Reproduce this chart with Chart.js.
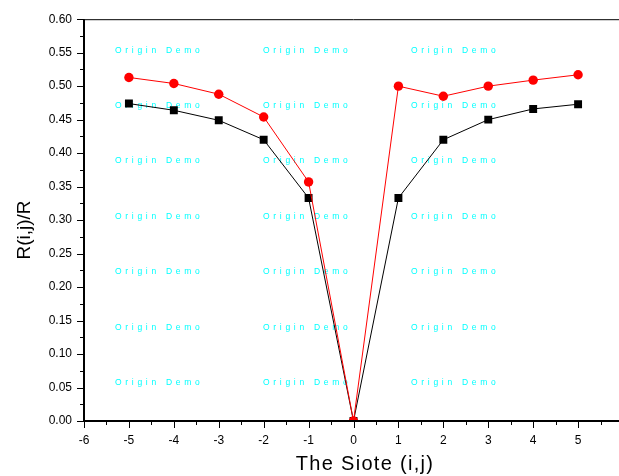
<!DOCTYPE html>
<html>
<head>
<meta charset="utf-8">
<script src="https://cdn.jsdelivr.net/npm/chart.js@4/dist/chart.umd.min.js"></script>
<style>
  html, body { margin: 0; padding: 0; background: #fff; overflow: hidden; }
  #wrap { width: 619px; height: 476px; overflow: hidden; }
</style>
</head>
<body>
<div id="wrap"><canvas id="c" width="640" height="476"></canvas></div>
<script>
// Site index (x) and the two R(i,j)/R series
const sites = [-5, -4, -3, -2, -1, 0, 1, 2, 3, 4, 5];
const blackSeries = [0.474, 0.464, 0.449, 0.420, 0.333, 0, 0.333, 0.420, 0.450, 0.466, 0.473];
const redSeries = [0.513, 0.504, 0.488, 0.454, 0.357, 0, 0.500, 0.485, 0.500, 0.509, 0.517];

const xTitle = 'The Siote (i,j)';
const yTitle = 'R(i,j)/R';
const watermark = 'Origin Demo';
const watermarkCols = [115, 263, 411];
const watermarkRows = [51, 106, 161, 217, 272, 328, 383];

const toPoints = (ys) => sites.map((x, i) => ({ x, y: ys[i] }));

// watermark behind the data
const watermarkPlugin = {
  id: 'watermark',
  beforeDatasetsDraw(chart) {
    const ctx = chart.ctx;
    ctx.save();
    ctx.fillStyle = '#00ffff';
    ctx.font = '8.5px Arial, "Liberation Sans", sans-serif';
    ctx.textBaseline = 'middle';
    ctx.textAlign = 'left';
    if ('letterSpacing' in ctx) ctx.letterSpacing = '3.7px';
    watermarkRows.forEach((y) => {
      watermarkCols.forEach((x) => ctx.fillText(watermark, x, y));
    });
    ctx.restore();
  },
};

// axis lines, major/minor ticks, frame top and axis titles
const axesPlugin = {
  id: 'originAxes',
  afterDraw(chart) {
    const { ctx, chartArea: a, scales: { x, y } } = chart;
    ctx.save();
    ctx.strokeStyle = '#000';

    // top frame line
    ctx.lineWidth = 1;
    ctx.beginPath();
    ctx.moveTo(a.left, a.top + 0.5);
    ctx.lineTo(a.right, a.top + 0.5);
    ctx.stroke();

    // y ticks
    for (let i = 0; i <= 24; i++) {
      const py = Math.round(y.getPixelForValue(i * 0.025)) + 0.5;
      const len = i % 2 === 0 ? 7 : 4;
      ctx.beginPath();
      ctx.moveTo(a.left - len, py);
      ctx.lineTo(a.left, py);
      ctx.stroke();
    }
    // x ticks
    for (let i = 0; i <= 24; i++) {
      const px = Math.round(x.getPixelForValue(-6 + i * 0.5)) + 0.5;
      const len = i % 2 === 0 ? 7 : 4;
      ctx.beginPath();
      ctx.moveTo(px, a.bottom);
      ctx.lineTo(px, a.bottom + len);
      ctx.stroke();
    }

    // axis lines
    ctx.lineWidth = 2;
    ctx.beginPath();
    ctx.moveTo(a.left, a.top);
    ctx.lineTo(a.left, a.bottom + 1);
    ctx.moveTo(a.left - 1, a.bottom);
    ctx.lineTo(a.right, a.bottom);
    ctx.stroke();

    // titles
    ctx.fillStyle = '#000';
    ctx.textAlign = 'center';
    ctx.textBaseline = 'middle';
    ctx.font = '20px Arial, "Liberation Sans", sans-serif';
    if ('letterSpacing' in ctx) ctx.letterSpacing = '1.3px';
    ctx.fillText(xTitle, 365, 464);
    if ('letterSpacing' in ctx) ctx.letterSpacing = '0px';
    ctx.font = '19px Arial, "Liberation Sans", sans-serif';
    ctx.translate(25, 230);
    ctx.rotate(-Math.PI / 2);
    ctx.fillText(yTitle, 0, 0);
    ctx.restore();
  },
};

const tickFont = { family: 'Arial, "Liberation Sans", sans-serif', size: 12 };

new Chart(document.getElementById('c'), {
  type: 'line',
  data: {
    datasets: [
      {
        label: 'black',
        data: toPoints(blackSeries),
        borderColor: '#000',
        backgroundColor: '#000',
        borderWidth: 1,
        pointStyle: 'rect',
        pointRadius: 5.6,
        pointBorderWidth: 0,
        tension: 0,
        clip: 0,
        order: 1,
      },
      {
        label: 'red',
        data: toPoints(redSeries),
        borderColor: '#ff0000',
        backgroundColor: '#ff0000',
        borderWidth: 1,
        pointStyle: 'circle',
        pointRadius: 4.7,
        pointBorderWidth: 0,
        tension: 0,
        clip: 0,
        order: 0,
      },
    ],
  },
  options: {
    responsive: false,
    animation: false,
    layout: { padding: { left: 0, top: 18, right: 17, bottom: 0 } },
    plugins: { legend: { display: false }, tooltip: { enabled: false } },
    scales: {
      x: {
        type: 'linear',
        min: -6,
        max: 6,
        afterFit: (s) => { s.height = 55; },
        grid: { display: false, drawTicks: false },
        border: { display: false },
        ticks: {
          stepSize: 1,
          padding: 12,
          color: '#000',
          font: tickFont,
          maxRotation: 0,
          autoSkip: false,
          callback: (v) => String(v),
        },
      },
      y: {
        min: 0,
        max: 0.6,
        afterFit: (s) => { s.width = 84; },
        grid: { display: false, drawTicks: false },
        border: { display: false },
        ticks: {
          stepSize: 0.05,
          padding: 12,
          color: '#000',
          font: tickFont,
          autoSkip: false,
          callback: (v) => Number(v).toFixed(2),
        },
      },
    },
  },
  plugins: [watermarkPlugin, axesPlugin],
});
</script>
</body>
</html>
